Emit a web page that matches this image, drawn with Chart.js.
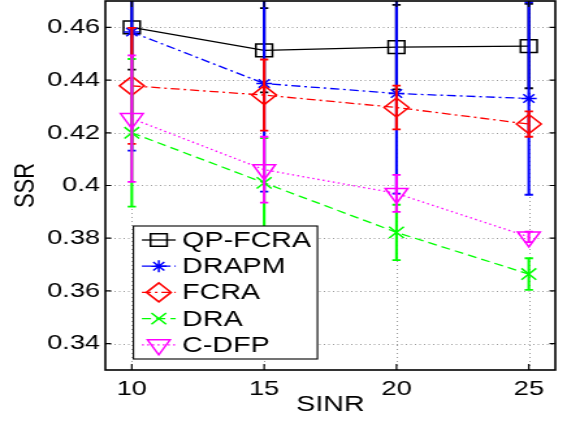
<!DOCTYPE html>
<html>
<head>
<meta charset="utf-8">
<script src="https://cdn.jsdelivr.net/npm/chart.js@4/dist/chart.umd.min.js"></script>
<style>
html, body { margin: 0; padding: 0; background: #fff; }
#myChart { display: block; }
</style>
</head>
<body>
<!-- the reference is a figure stretched ~1.3x horizontally, so draw narrow and stretch with css -->
<canvas id="myChart" width="436" height="421" style="width:567px;height:421px"></canvas>
<script>
var sinr = [10, 15, 20, 25];
var yTicks = [0.34, 0.36, 0.38, 0.40, 0.42, 0.44, 0.46];
var seriesNames = ['QP-FCRA', 'DRAPM', 'FCRA', 'DRA', 'C-DFP'];

var qpFcra    = [0.4600, 0.4513, 0.4525, 0.4529];
var qpFcraErr = [0.016, 0.016, 0.016, 0.016];
var drapm     = [0.4582, 0.4387, 0.4349, 0.4330];
var drapmErr  = [0.045, 0.041, 0.038, 0.0365];
var fcra      = [0.4378, 0.4343, 0.4296, 0.4233];
var fcraErr   = [0.022, 0.0135, 0.0083, 0.0048];
var dra       = [0.4200, 0.4010, 0.3822, 0.3664];
var draErr    = [0.028, 0.017, 0.0105, 0.006];
var cdfp      = [0.4254, 0.4060, 0.3970, 0.3805];
var cdfpErr   = [0.024, 0.0125, 0.007, 0.002];

var FONT = "'Liberation Sans', Arial, Helvetica, sans-serif";

function pts(vals) {
  return sinr.map(function(x, i) { return { x: x, y: vals[i] }; });
}

function series(name, vals, errs, color, style, radius, dash, rot, order) {
  return {
    label: name,
    data: pts(vals),
    errors: errs,
    borderColor: color,
    borderWidth: 1.3,
    borderDash: dash,
    pointStyle: style,
    pointRadius: radius,
    pointRotation: rot,
    pointBorderColor: color,
    pointBackgroundColor: 'rgba(0,0,0,0)',
    pointBorderWidth: 1.5,
    fill: false,
    tension: 0,
    order: order
  };
}

var datasets = [
  series(seriesNames[0], qpFcra, qpFcraErr, '#000000', 'rect', 9, [], 0, 5),
  series(seriesNames[1], drapm, drapmErr, '#0000ff', 'star', 6, [7, 3, 2, 3], 0, 4),
  series(seriesNames[2], fcra, fcraErr, '#ff0000', 'rectRot', 9.5, [7, 3, 2, 3], 0, 3),
  series(seriesNames[3], dra, draErr, '#00ff00', 'crossRot', 8, [7, 4], 0, 2),
  series(seriesNames[4], cdfp, cdfpErr, '#ff00ff', 'triangle', 10, [1.5, 2.5], 180, 1)
];

// white page + dotted grid under the data
var backdrop = {
  id: 'backdrop',
  beforeDraw: function(chart) {
    var ctx = chart.ctx;
    ctx.save();
    ctx.fillStyle = '#fff';
    ctx.fillRect(0, 0, chart.width, chart.height);
    ctx.restore();
  },
  beforeDatasetsDraw: function(chart) {
    var ctx = chart.ctx, a = chart.chartArea;
    var xs = chart.scales.x, ys = chart.scales.y;
    ctx.save();
    ctx.strokeStyle = '#9a9a9a';
    ctx.lineWidth = 1;
    ctx.setLineDash([1, 2.5]);
    yTicks.forEach(function(v) {
      var y = Math.round(ys.getPixelForValue(v)) + 0.5;
      ctx.beginPath(); ctx.moveTo(a.left, y); ctx.lineTo(a.right, y); ctx.stroke();
    });
    ctx.setLineDash([1, 3]);
    sinr.forEach(function(v) {
      var x = Math.round(xs.getPixelForValue(v)) + 0.5;
      ctx.beginPath(); ctx.moveTo(x, a.top); ctx.lineTo(x, a.bottom); ctx.stroke();
    });
    ctx.restore();
  }
};

// vertical error bars with caps
var errorBars = {
  id: 'errorBars',
  afterDatasetDraw: function(chart, args) {
    var ds = chart.data.datasets[args.index];
    if (!ds.errors) return;
    var ctx = chart.ctx, a = chart.chartArea;
    var xs = chart.scales.x, ys = chart.scales.y;
    ctx.save();
    ctx.beginPath();
    ctx.rect(a.left, a.top, a.right - a.left, a.bottom - a.top);
    ctx.clip();
    ctx.strokeStyle = ds.borderColor;
    ctx.setLineDash([]);
    ds.data.forEach(function(p, i) {
      var x = xs.getPixelForValue(p.x);
      var y1 = ys.getPixelForValue(p.y + ds.errors[i]);
      var y2 = ys.getPixelForValue(p.y - ds.errors[i]);
      ctx.lineWidth = 2.1;
      ctx.beginPath(); ctx.moveTo(x, y1); ctx.lineTo(x, y2); ctx.stroke();
      ctx.lineWidth = 1.8;
      ctx.beginPath();
      ctx.moveTo(x - 3.2, y1); ctx.lineTo(x + 3.2, y1);
      ctx.moveTo(x - 3.2, y2); ctx.lineTo(x + 3.2, y2);
      ctx.stroke();
    });
    ctx.restore();
  }
};

// axes box, inward ticks and the legend box
var frame = {
  id: 'frame',
  afterDraw: function(chart) {
    var ctx = chart.ctx, a = chart.chartArea;
    var xs = chart.scales.x, ys = chart.scales.y;
    ctx.save();
    ctx.strokeStyle = '#000';
    ctx.setLineDash([]);
    ctx.lineWidth = 1.6;
    ctx.strokeRect(a.left, a.top, a.right - a.left, a.bottom - a.top);
    ctx.lineWidth = 1.2;
    ctx.beginPath();
    sinr.forEach(function(v) {
      var x = xs.getPixelForValue(v);
      ctx.moveTo(x, a.bottom); ctx.lineTo(x, a.bottom - 6);
      ctx.moveTo(x, a.top); ctx.lineTo(x, a.top + 6);
    });
    yTicks.forEach(function(v) {
      var y = ys.getPixelForValue(v);
      ctx.moveTo(a.left, y); ctx.lineTo(a.left + 4.5, y);
      ctx.moveTo(a.right, y); ctx.lineTo(a.right - 4.5, y);
    });
    ctx.stroke();

    // legend
    var lx = a.left + 21.6, ly = a.top + 225, lw = 141.5, lh = 133;
    ctx.fillStyle = '#fff';
    ctx.fillRect(lx, ly, lw, lh);
    ctx.lineWidth = 1.1;
    ctx.strokeRect(lx, ly, lw, lh);
    ctx.font = '22px ' + FONT;
    ctx.textBaseline = 'middle';
    chart.data.datasets.forEach(function(ds, i) {
      var y = ly + 14 + i * 26.2;
      ctx.strokeStyle = ds.borderColor;
      ctx.lineWidth = ds.borderWidth;
      ctx.setLineDash(ds.borderDash);
      ctx.beginPath(); ctx.moveTo(lx + 6.5, y); ctx.lineTo(lx + 32.5, y); ctx.stroke();
      ctx.setLineDash([]);
      ctx.fillStyle = 'rgba(0,0,0,0)';
      ctx.lineWidth = ds.pointBorderWidth;
      Chart.helpers.drawPoint(ctx, {
        pointStyle: ds.pointStyle,
        rotation: ds.pointRotation,
        radius: ds.pointRadius,
        borderWidth: ds.pointBorderWidth
      }, lx + 19.5, y);
      ctx.fillStyle = '#000';
      ctx.fillText(ds.label, lx + 37.5, y + 1);
    });
    ctx.restore();
  }
};

var ctx = document.getElementById('myChart');
new Chart(ctx, {
  type: 'line',
  data: { datasets: datasets },
  plugins: [backdrop, errorBars, frame],
  options: {
    responsive: false,
    animation: false,
    devicePixelRatio: 1,
    layout: { autoPadding: false, padding: { top: 1, right: 9, left: 0, bottom: 0 } },
    plugins: {
      legend: { display: false },
      tooltip: { enabled: false }
    },
    scales: {
      x: {
        type: 'linear',
        min: 9,
        max: 26,
        afterBuildTicks: function(axis) {
          axis.ticks = sinr.map(function(v) { return { value: v }; });
        },
        afterFit: function(axis) {
          axis.height = 51;
          axis.paddingLeft = 0;
          axis.paddingRight = 0;
        },
        grid: { display: false, drawTicks: false },
        border: { display: false },
        ticks: {
          color: '#000',
          padding: 7,
          maxRotation: 0,
          font: { family: FONT, size: 21 }
        },
        title: {
          display: true,
          text: 'SINR',
          color: '#000',
          padding: { top: 0, bottom: 3 },
          font: { family: FONT, size: 22 }
        }
      },
      y: {
        type: 'linear',
        min: 0.33,
        max: 0.47,
        afterBuildTicks: function(axis) {
          axis.ticks = yTicks.map(function(v) { return { value: v }; });
        },
        afterFit: function(axis) {
          axis.width = 81;
          axis.paddingTop = 0;
          axis.paddingBottom = 0;
        },
        grid: { display: false, drawTicks: false },
        border: { display: false },
        ticks: {
          color: '#000',
          padding: 4,
          font: { family: FONT, size: 21 },
          callback: function(v) { return String(Math.round(v * 100) / 100); }
        },
        title: {
          display: true,
          text: 'SSR',
          color: '#000',
          padding: { top: 6.4, bottom: 0 },
          font: { family: FONT, size: 22 }
        }
      }
    }
  }
});
</script>
</body>
</html>
